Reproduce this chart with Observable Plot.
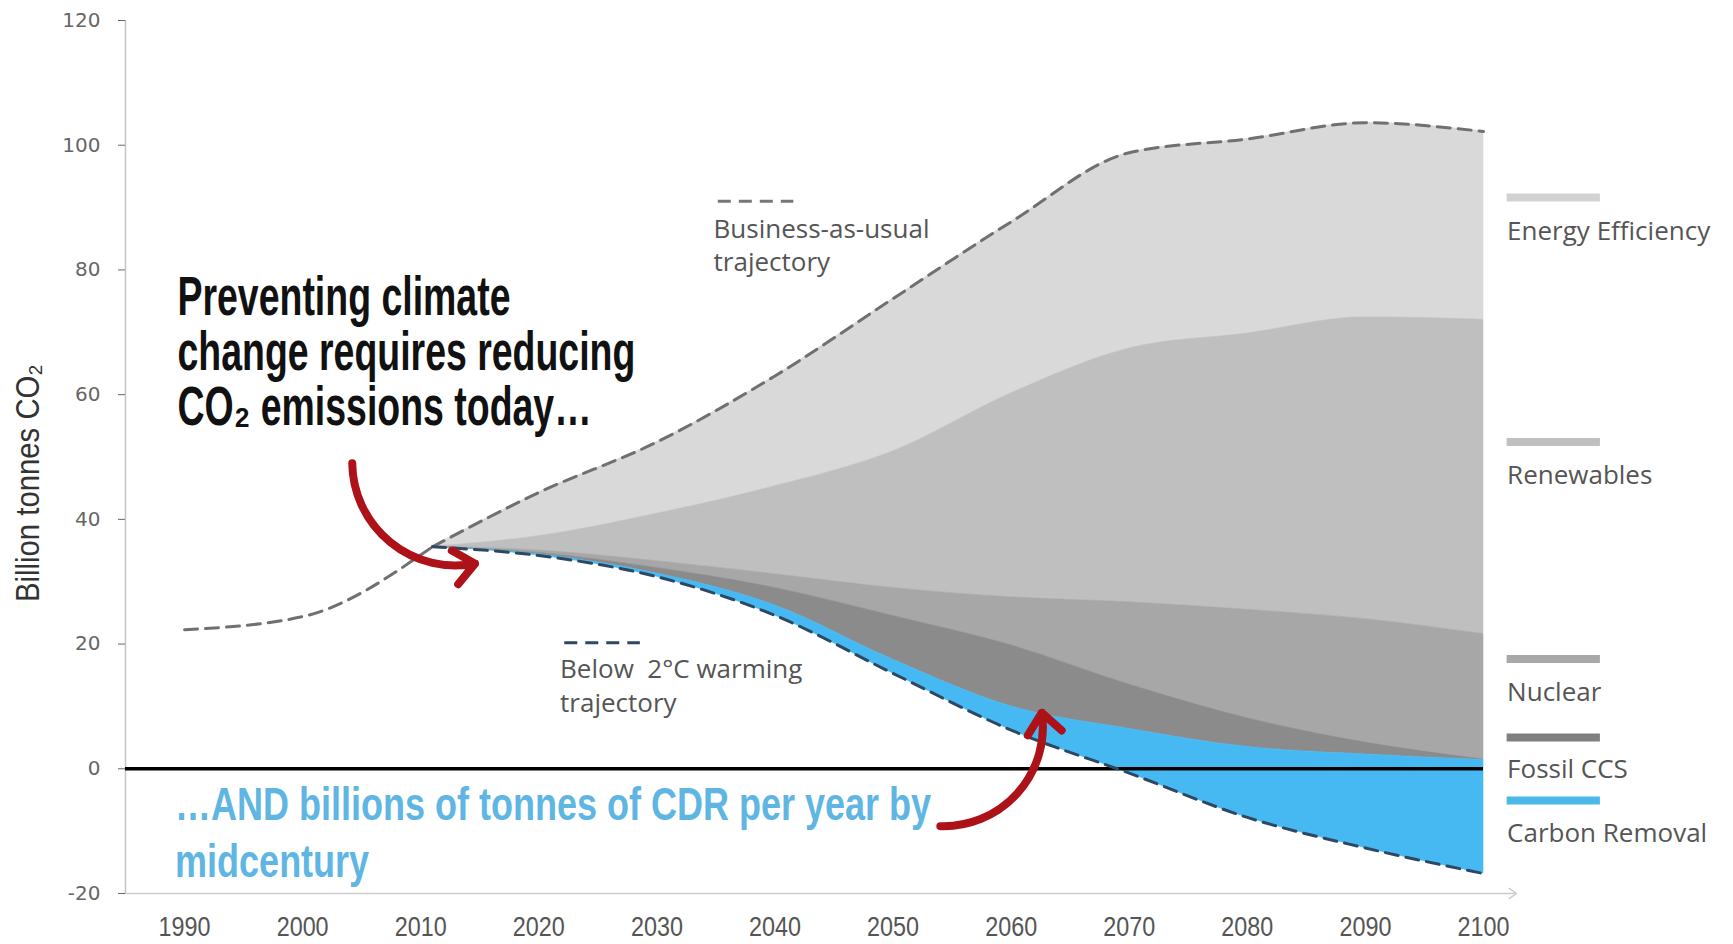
<!DOCTYPE html>
<html>
<head>
<meta charset="utf-8">
<script src="https://cdn.jsdelivr.net/npm/d3@7"></script>
<script src="https://cdn.jsdelivr.net/npm/@observablehq/plot@0.6"></script>
<style>
  html, body { margin: 0; padding: 0; background: #fff; }
  #chart svg { display: block; }
</style>
</head>
<body>
<div id="chart"></div>
<script>
// ---------------- DATA ----------------
const xTicks = [1990, 2000, 2010, 2020, 2030, 2040, 2050, 2060, 2070, 2080, 2090, 2100];
const yTicks = [-20, 0, 20, 40, 60, 80, 100, 120];

// Business-as-usual trajectory (billion tonnes CO2)
const bauYears = [1990, 2000, 2011, 2020, 2030, 2040, 2050, 2060, 2070, 2080, 2090, 2100];
const bau      = [22.3, 24.4, 35.6, 44.3, 52.4, 63.0, 75.4, 87.7, 98.8, 101.0, 103.6, 102.2];

// Wedge boundaries (upper edge of each wedge) for the mitigation scenario
const years         = [2011, 2020, 2030, 2040, 2050, 2060, 2070, 2080, 2090, 2100];
const renewablesTop = [35.6, 37.3, 40.9, 45.3, 50.9, 60.2, 67.4, 69.8, 72.4, 72.0];
const nuclearTop    = [35.6, 35.0, 33.3, 31.2, 29.0, 27.5, 26.7, 25.5, 24.0, 21.6];
const fossilCcsTop  = [35.6, 34.6, 32.2, 29.0, 24.5, 19.8, 13.5, 8.1, 4.2, 1.5];
const removalTop    = [35.6, 34.4, 31.3, 26.2, 17.5, 10.0, 6.4, 3.5, 2.3, 1.4];
// Below 2°C warming trajectory
const below2        = [35.6, 34.2, 30.8, 24.6, 15.3, 6.2, -0.7, -7.8, -12.7, -16.8];

const categories   = ["Energy Efficiency", "Renewables", "Nuclear", "Fossil CCS", "Carbon Removal"];
const areaColors   = ["#d9d9d9", "#bfbfbf", "#a7a7a7", "#8b8b8b", "#46b9f3"];
const legendColors = ["#d2d2d2", "#c0c0c0", "#a8a8a8", "#808080", "#4bb8e8"];

const headline = "Preventing climate\nchange requires reducing\nCO\u2082 emissions today\u2026";
const cdrText  = "\u2026AND billions of tonnes of CDR per year by\nmidcentury";
const bauLabel = "Business-as-usual\ntrajectory";
const b2Label  = "Below  2\u00b0C warming\ntrajectory";
const yLabel   = "Billion tonnes CO\u2082";

// ---------------- TABLES ----------------
const bauMap = new Map(bauYears.map((y, i) => [y, bau[i]]));
const bauRows = bauYears.map((year, i) => ({year, value: bau[i]}));
const bounds = [
  years.map(y => bauMap.get(y)), renewablesTop, nuclearTop, fossilCcsTop, removalTop, below2
];
const bands = [];
categories.forEach((cat, c) => {
  years.forEach((year, i) => bands.push({cat, year, hi: bounds[c][i], lo: bounds[c + 1][i]}));
});
const below2Rows = years.map((year, i) => ({year, value: below2[i]}));

// legend placement (in value units, right of the plot)
const legendRows = categories.map((name, i) => ({
  name, color: legendColors[i], barY: [91.6, 52.4, 17.6, 5.0, -5.1][i], labelY: [86.2, 47.0, 12.2, -0.2, -10.4][i]
}));

const arrows = [
  {x1: 2004.2, y1: 49.0, x2: 2014.6, y2: 32.9},
  {x1: 2054.0, y1: -9.2, x2: 2062.6, y2: 9.0}
];

const labelFont = "'Open Sans', 'DejaVu Sans', sans-serif";
const condFont = "'Liberation Sans Narrow', 'Liberation Sans', Arial, sans-serif";

const svg = Plot.plot({
  width: 1733,
  height: 944,
  marginLeft: 125,
  marginRight: 250,
  marginTop: 20,
  marginBottom: 51,
  style: {background: "#fff", overflow: "visible"},
  x: {domain: [1985, 2100], label: null},
  y: {domain: [-20, 120], label: null},
  color: {domain: categories, range: areaColors},
  marks: [
    // stacked wedges
    Plot.areaY(bands, {x: "year", y1: "lo", y2: "hi", z: "cat", fill: "cat", stroke: "cat", strokeWidth: 0.6, curve: "monotone-x"}),
    // axes lines
    Plot.ruleX([1985], {y1: -20, y2: 120, stroke: "#c4c4c4", strokeWidth: 1.5}),
    Plot.arrow([{a: 1985, b: 2102.8, v: -20}], {x1: "a", x2: "b", y1: "v", y2: "v", stroke: "#cdcdcd", strokeWidth: 1.5, headLength: 9, headAngle: 70}),
    Plot.axisY({ticks: yTicks, tickFormat: d => String(d), tickSize: 7, tickPadding: 18, fontSize: 20, fontFamily: "'DejaVu Sans', Verdana, sans-serif", color: "#666", label: null}),
    Plot.axisX({ticks: xTicks, tickFormat: d => String(d), tickSize: 0, tickPadding: 23, fontSize: 27, fontFamily: condFont, color: "#555", label: null}),
    // zero line
    Plot.ruleY([0], {x1: 1985, x2: 2100, stroke: "#000", strokeWidth: 3.5}),
    // trajectories
    Plot.line(bauRows.filter(d => d.year <= 2011), {x: "year", y: "value", stroke: "#707070", strokeWidth: 3, strokeDasharray: "13,8", curve: "monotone-x"}),
    Plot.line(bauRows.filter(d => d.year >= 2011), {x: "year", y: "value", stroke: "#707070", strokeWidth: 3, strokeDasharray: "13,8", curve: "monotone-x"}),
    Plot.line(below2Rows, {x: "year", y: "value", stroke: "#2e4862", strokeWidth: 3, strokeDasharray: "13,8", curve: "monotone-x"}),
    // trajectory labels
    Plot.ruleY([91], {x1: 2035.2, x2: 2041.6, stroke: "#777", strokeWidth: 3, strokeDasharray: "13,8"}),
    Plot.text([bauLabel], {x: 2034.8, y: 84.2, text: d => d, textAnchor: "start", lineAnchor: "middle", lineHeight: 1.3, fontSize: 26, fontFamily: labelFont, fill: "#555"}),
    Plot.ruleY([20.2], {x1: 2022.2, x2: 2028.6, stroke: "#2e4862", strokeWidth: 3, strokeDasharray: "13,8"}),
    Plot.text([b2Label], {x: 2021.8, y: 13.6, text: d => d, textAnchor: "start", lineAnchor: "middle", lineHeight: 1.3, fontSize: 26, fontFamily: labelFont, fill: "#555"}),
    // headline annotations
    Plot.text([headline], {x: 1989.4, y: 66.7, text: d => d, textAnchor: "start", lineAnchor: "middle", lineHeight: 1.0, fontSize: 55, fontWeight: "bold", fontFamily: condFont, fill: "#111"}),
    Plot.text([cdrText], {x: 1989.2, y: -9.9, text: d => d, textAnchor: "start", lineAnchor: "middle", lineHeight: 1.2, fontSize: 47, fontWeight: "bold", fontFamily: condFont, fill: "#5fb6e2"}),
    // curved red arrows
    Plot.arrow(arrows, {x1: "x1", y1: "y1", x2: "x2", y2: "y2", bend: -50, stroke: "#ad1219", strokeWidth: 8, headLength: 5, headAngle: 80}),
    // legend
    Plot.ruleY(legendRows, {y: "barY", x1: 2102.0, x2: 2109.9, stroke: "color", strokeWidth: 8}),
    Plot.text(legendRows, {y: "labelY", x: 2102.0, text: "name", textAnchor: "start", fontSize: 26, fontFamily: labelFont, fill: "#555"}),
    // y axis title
    Plot.text([yLabel], {x: 1976.8, y: 45.8, text: d => d, rotate: -90, fontSize: 33, fontFamily: condFont, fill: "#333"})
  ]
});

document.getElementById("chart").append(svg);

// Condense selected texts horizontally to match the narrow display face of the original
function condenseEl(el, s) {
  const t = el.getAttribute("transform") || "";
  el.setAttribute("transform", `${t} scale(${s.toFixed(4)},1)`);
}
function condense(startsWith, targetWidth) {
  svg.querySelectorAll("text").forEach(el => {
    if (!el.textContent.startsWith(startsWith)) return;
    const w = el.getBBox().width;
    if (w) condenseEl(el, targetWidth / w);
  });
}
condense("Preventing", 458);
condense("\u2026AND", 756);
condense("Billion", 238);
// narrow tall year labels
const xLabels = svg.querySelectorAll('g[aria-label="x-axis tick label"] text');
if (xLabels.length) {
  const w0 = xLabels[0].getBBox().width;
  if (w0) xLabels.forEach(el => condenseEl(el, 52 / w0));
}
</script>
</body>
</html>
